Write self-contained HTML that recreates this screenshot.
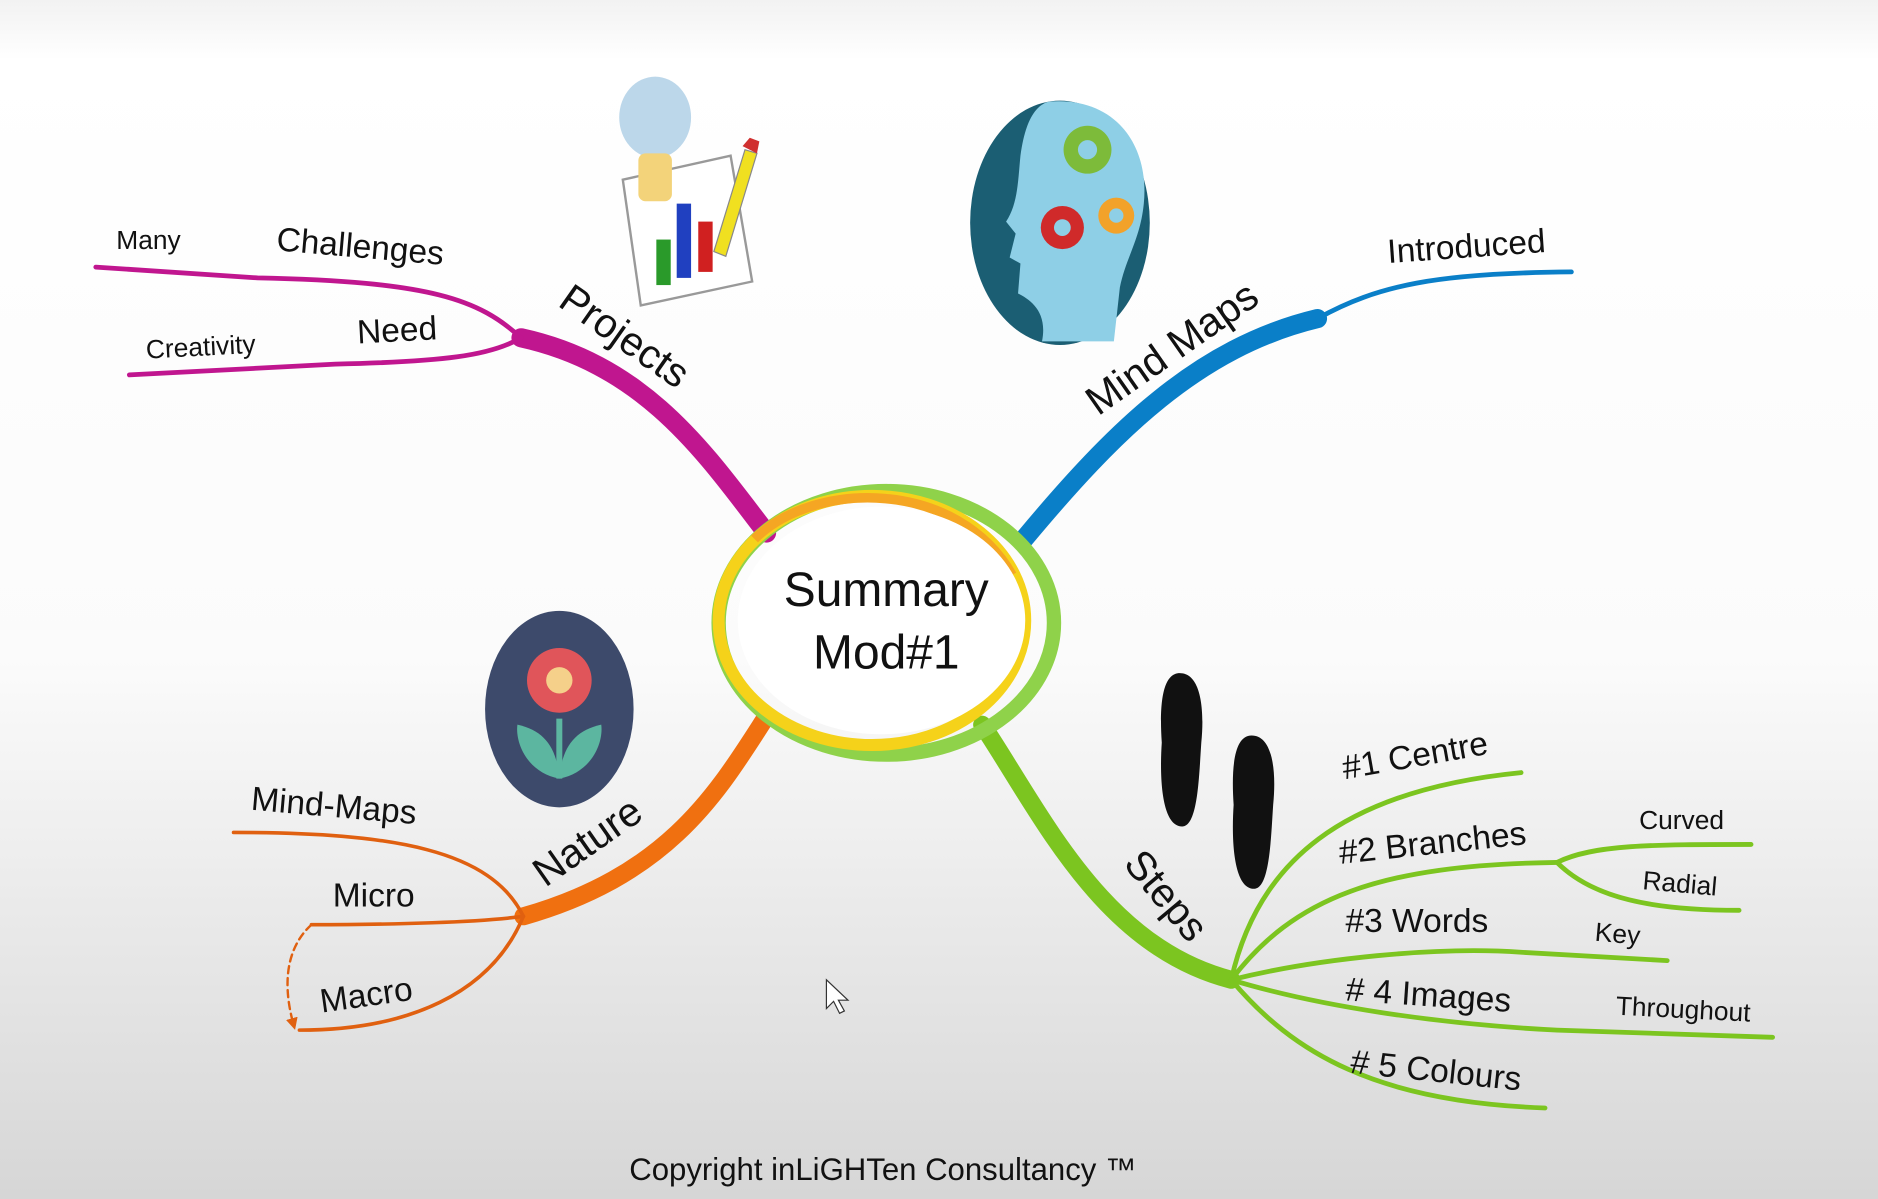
<!DOCTYPE html>
<html><head><meta charset="utf-8"><style>
html,body{margin:0;padding:0;width:1878px;height:1199px;overflow:hidden}
svg{display:block}
text{font-family:"Liberation Sans",sans-serif;fill:#111}
</style></head><body>
<svg width="1878" height="1199" viewBox="0 0 1568 1001" preserveAspectRatio="none" xmlns="http://www.w3.org/2000/svg">
<defs>
<linearGradient id="bg" x1="0" y1="0" x2="0" y2="1">
<stop offset="0" stop-color="#f2f2f2"/><stop offset="0.05" stop-color="#ffffff"/>
<stop offset="0.55" stop-color="#fbfbfb"/><stop offset="1" stop-color="#d6d6d6"/></linearGradient>
<marker id="ar" viewBox="0 0 10 10" refX="5" refY="5" markerWidth="5" markerHeight="5" orient="auto"><path d="M0,0L10,5L0,10z" fill="#e06010"/></marker>
</defs>
<rect width="1568" height="1001" fill="url(#bg)"/>
<g fill="none" stroke-linecap="round">
<!-- Projects -->
<path d="M640,445 C590,380 540,305 435,282" stroke="#c0168f" stroke-width="16"/>
<path d="M435,282 C400,250 360,235 215,232 L80,223" stroke="#c0168f" stroke-width="4"/>
<path d="M435,282 C410,297 370,302 280,304 L108,313" stroke="#c0168f" stroke-width="4"/>
<!-- Mind Maps -->
<path d="M855,450 C930,360 1000,290 1100,266" stroke="#0a7fc8" stroke-width="16"/>
<path d="M1100,266 C1150,238 1200,228 1312,227" stroke="#0a7fc8" stroke-width="4"/>
<!-- Nature -->
<path d="M640,598 C600,660 560,730 437,765" stroke="#f07010" stroke-width="15"/>
<path d="M437,765 C410,710 330,695 195,695" stroke="#e06010" stroke-width="3"/>
<path d="M437,765 C400,770 330,772 260,772" stroke="#e06010" stroke-width="3"/>
<path d="M437,765 C410,830 340,860 250,860" stroke="#e06010" stroke-width="3"/>
<path d="M260,772 C235,795 238,830 245,855" stroke="#e06010" stroke-width="2" stroke-dasharray="6,4" marker-end="url(#ar)"/>
<!-- Steps -->
<path d="M820,605 C870,680 920,790 1028,818" stroke="#7cc520" stroke-width="15"/>
<g stroke="#7cc520" stroke-width="4">
<path d="M1028,818 C1050,720 1120,660 1270,645"/>
<path d="M1028,818 C1080,750 1150,722 1300,720"/>
<path d="M1300,720 C1330,705 1380,705 1462,705"/>
<path d="M1300,720 C1330,750 1380,760 1452,760"/>
<path d="M1028,818 C1100,800 1200,790 1270,795 L1392,802"/>
<path d="M1028,818 C1100,840 1200,855 1300,860 L1480,866"/>
<path d="M1028,818 C1080,880 1150,920 1290,925"/>
</g>
</g>
<!-- centre -->
<ellipse cx="740" cy="520" rx="140" ry="110" fill="none" stroke="#8fd24a" stroke-width="12"/>
<ellipse cx="728" cy="518" rx="128" ry="104" fill="none" stroke="#f5d21a" stroke-width="10"/>
<path d="M630,450 C680,400 800,400 845,480" fill="none" stroke="#f5a623" stroke-width="8"/>
<ellipse cx="736" cy="518" rx="120" ry="95" fill="#fff"/>
<text x="740" y="506" font-size="40" text-anchor="middle">Summary</text>
<text x="740" y="558" font-size="40" text-anchor="middle">Mod#1</text>
<!-- labels -->
<text x="515" y="290" font-size="34" text-anchor="middle" transform="rotate(35 515 290)">Projects</text>
<text x="300" y="215" font-size="28" text-anchor="middle" transform="rotate(5 300 215)">Challenges</text>
<text x="124" y="208" font-size="22" text-anchor="middle">Many</text>
<text x="332" y="285" font-size="28" text-anchor="middle" transform="rotate(-3 332 285)">Need</text>
<text x="168" y="297" font-size="22" text-anchor="middle" transform="rotate(-3 168 297)">Creativity</text>
<text x="985" y="300" font-size="34" text-anchor="middle" transform="rotate(-35 985 300)">Mind Maps</text>
<text x="1225" y="215" font-size="28" text-anchor="middle" transform="rotate(-4 1225 215)">Introduced</text>
<text x="497" y="712" font-size="34" text-anchor="middle" transform="rotate(-35 497 712)">Nature</text>
<text x="278" y="682" font-size="28" text-anchor="middle" transform="rotate(5 278 682)">Mind-Maps</text>
<text x="312" y="757" font-size="28" text-anchor="middle">Micro</text>
<text x="307" y="840" font-size="28" text-anchor="middle" transform="rotate(-8 307 840)">Macro</text>
<text x="965" y="755" font-size="34" text-anchor="middle" transform="rotate(50 965 755)">Steps</text>
<text x="1183" y="640" font-size="28" text-anchor="middle" transform="rotate(-10 1183 640)">#1 Centre</text>
<text x="1197" y="713" font-size="28" text-anchor="middle" transform="rotate(-6 1197 713)">#2 Branches</text>
<text x="1183" y="778" font-size="28" text-anchor="middle">#3 Words</text>
<text x="1192" y="840" font-size="28" text-anchor="middle" transform="rotate(4 1192 840)"># 4 Images</text>
<text x="1198" y="903" font-size="28" text-anchor="middle" transform="rotate(6 1198 903)"># 5 Colours</text>
<text x="1404" y="692" font-size="22" text-anchor="middle">Curved</text>
<text x="1402" y="745" font-size="22" text-anchor="middle" transform="rotate(5 1402 745)">Radial</text>
<text x="1350" y="787" font-size="22" text-anchor="middle" transform="rotate(5 1350 787)">Key</text>
<text x="1405" y="850" font-size="22" text-anchor="middle" transform="rotate(3 1405 850)">Throughout</text>
<text x="737" y="985" font-size="26" text-anchor="middle">Copyright inLiGHTen Consultancy ™</text>
<!-- projects icon -->
<g>
<path d="M520,150 L610,130 L628,235 L535,255 Z" fill="#fff" stroke="#999" stroke-width="2"/>
<rect x="548" y="200" width="12" height="38" fill="#2a9a2a"/>
<rect x="565" y="170" width="12" height="62" fill="#2040c0"/>
<rect x="583" y="185" width="12" height="42" fill="#d02020"/>
<ellipse cx="547" cy="98" rx="30" ry="34" fill="#bcd7ea"/>
<rect x="533" y="128" width="28" height="40" rx="6" fill="#f3d37a"/>
<path d="M596,210 L622,125 L632,128 L606,214 Z" fill="#f0e020" stroke="#888"/>
<path d="M620,122 L626,115 L634,118 L632,128 Z" fill="#d03030"/>
</g>
<!-- head -->
<ellipse cx="885" cy="186" rx="75" ry="102" fill="#1b5e73"/>
<path d="M875,85 C930,80 960,120 955,170 C952,200 940,215 935,240 L930,285 L870,285 C875,260 860,250 850,245 L852,220 L843,215 L848,195 L840,185 C850,170 850,150 852,130 C856,100 865,88 875,85 Z" fill="#8ecfe6"/>
<circle cx="908" cy="125" r="20" fill="#7dbb3a"/><circle cx="908" cy="125" r="8" fill="#8ecfe6"/>
<circle cx="887" cy="190" r="18" fill="#d02a2a"/><circle cx="887" cy="190" r="7" fill="#8ecfe6"/>
<circle cx="932" cy="180" r="15" fill="#f2a22a"/><circle cx="932" cy="180" r="6" fill="#8ecfe6"/>
<!-- flower -->
<ellipse cx="467" cy="592" rx="62" ry="82" fill="#3d4a6b"/>
<path d="M467,600 L467,650" stroke="#5cb6a0" stroke-width="5"/>
<path d="M467,650 C440,645 430,620 432,605 C455,610 465,625 467,650 Z" fill="#5cb6a0"/>
<path d="M467,650 C494,645 504,620 502,605 C479,610 469,625 467,650 Z" fill="#5cb6a0"/>
<circle cx="467" cy="568" r="27" fill="#e0555a"/>
<circle cx="467" cy="568" r="11" fill="#f5d08a"/>
<!-- footprints -->
<path d="M985,562 C1002,562 1006,590 1003,620 C1001,650 1000,690 987,690 C970,690 968,650 970,620 C968,590 970,562 985,562 Z" fill="#111"/>
<path d="M1045,614 C1062,614 1066,642 1063,672 C1061,702 1060,742 1047,742 C1030,742 1028,702 1030,672 C1028,642 1030,614 1045,614 Z" fill="#111"/>
<!-- cursor -->
<path d="M690,818 L690,842 L696,836 L701,846 L705,844 L700,835 L708,835 Z" fill="#fff" stroke="#333" stroke-width="1"/>
</svg>
</body></html>
